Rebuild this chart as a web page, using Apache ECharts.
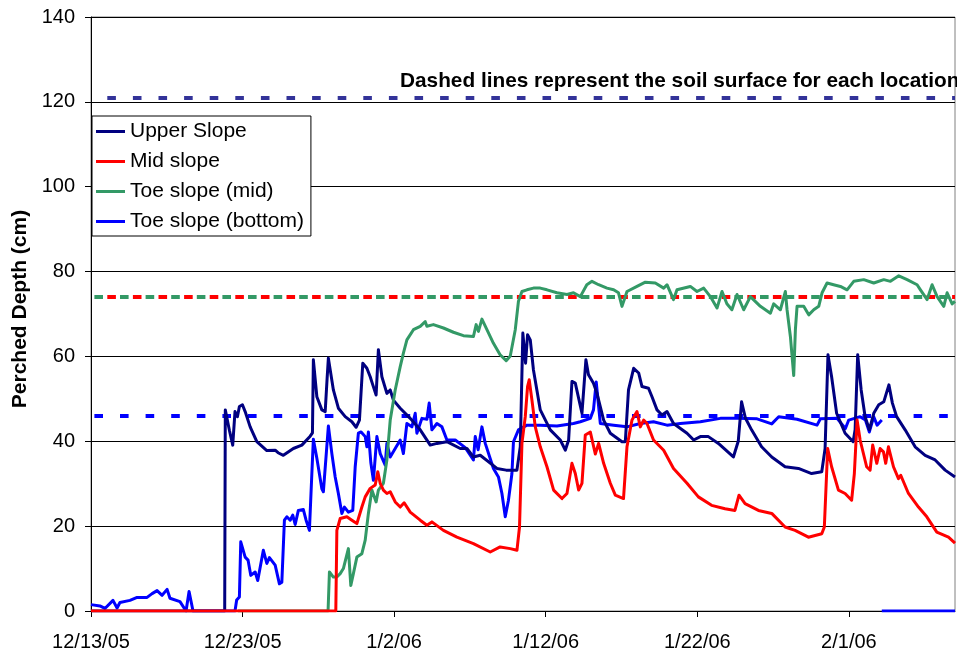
<!DOCTYPE html>
<html>
<head>
<meta charset="utf-8">
<title>Perched water depth</title>
<script src="https://cdn.jsdelivr.net/npm/echarts@6/dist/echarts.min.js"></script>
<style>
  html, body { margin: 0; padding: 0; background: #fff; }
  #chart { width: 957px; height: 653px; }
</style>
</head>
<body>
<div id="chart"></div>
<script>
// Perched water depth (cm) at four slope positions, Dec 2005 - Feb 2006.
// x values are days since 12/13/05.
const START_DATE = Date.UTC(2005, 11, 13);
const X_MAX_DAYS = 57;
const X_TICK_DAYS = [0, 10, 20, 30, 40, 50];
const Y_TICKS = [0, 20, 40, 60, 80, 100, 120, 140];

const seriesNames = ['Upper Slope', 'Mid slope', 'Toe slope (mid)', 'Toe slope (bottom)'];

// Soil surface level for each location (cm)
const soilSurface = [121, 74, 74, 46];

const upperSlope = [
  [0, 0], [8.82, 0], [8.86, 47.4], [9.13, 42.6], [9.35, 39.1], [9.50, 47.0], [9.66, 45.8],
  [9.79, 48.2], [9.99, 48.6], [10.17, 47.0], [10.50, 43.4], [10.94, 39.9], [11.60, 37.8],
  [12.15, 37.9], [12.34, 37.3], [12.69, 36.7], [13.35, 38.3], [13.91, 39.1], [14.46, 41.2],
  [14.61, 42.0], [14.67, 59.2], [14.90, 50.5], [15.23, 47.4], [15.45, 47.0], [15.58, 55.0],
  [15.66, 59.6], [15.99, 52.1], [16.32, 47.8], [16.77, 45.8], [17.21, 44.6], [17.49, 43.3],
  [17.71, 45.0], [17.93, 58.4], [18.20, 57.2], [18.42, 55.2], [18.59, 53.3], [18.81, 50.9],
  [18.96, 61.6], [19.19, 55.2], [19.52, 51.3], [19.74, 52.1], [19.95, 49.7], [20.40, 47.8],
  [21.06, 45.4], [21.72, 42.7], [22.38, 39.1], [22.82, 39.5], [23.48, 39.9], [24.36, 38.3],
  [24.80, 38.3], [25.23, 36.3], [25.68, 36.7], [26.78, 33.6], [27.39, 33.2], [28.10, 33.2],
  [28.32, 38.7], [28.49, 65.5], [28.67, 58.4], [28.80, 65.1], [28.98, 63.9], [29.19, 56.8],
  [29.64, 47.4], [30.30, 42.7], [30.96, 40.3], [31.29, 37.9], [31.51, 40.3], [31.73, 54.1],
  [31.95, 53.7], [32.39, 46.6], [32.65, 59.2], [32.82, 55.7], [33.15, 53.7], [33.38, 51.3],
  [33.82, 45.0], [34.26, 41.9], [35.03, 39.9], [35.25, 39.9], [35.46, 52.1], [35.80, 57.2],
  [36.13, 56.1], [36.35, 52.9], [36.78, 52.5], [37.01, 50.5], [37.34, 47.4], [37.67, 46.2],
  [38.00, 47.0], [38.43, 44.2], [39.32, 41.9], [39.76, 40.3], [40.20, 41.1], [40.73, 41.1],
  [41.39, 39.5], [42.38, 36.3], [42.70, 40.0], [42.92, 49.3], [43.17, 45.5], [43.58, 42.7],
  [44.24, 38.7], [44.91, 36.3], [45.79, 34.0], [46.67, 33.6], [47.54, 32.4], [48.21, 32.8],
  [48.43, 38.3], [48.62, 60.4], [48.86, 55.2], [49.19, 46.6], [49.75, 41.9], [50.28, 39.9],
  [50.41, 42.7], [50.58, 60.4], [50.81, 52.1], [51.07, 45.8], [51.35, 42.7], [51.64, 46.6],
  [51.97, 48.6], [52.30, 49.3], [52.64, 53.3], [52.87, 49.0], [53.15, 45.8], [53.71, 42.7],
  [54.37, 38.7], [55.03, 36.7], [55.69, 35.6], [56.35, 33.2], [57.0, 31.6]
];

const midSlope = [
  [0, 0], [16.15, 0], [16.22, 19.0], [16.44, 21.8], [16.88, 22.2], [17.21, 21.4], [17.54, 20.6],
  [17.87, 24.5], [18.09, 26.9], [18.42, 28.9], [18.75, 29.7], [18.92, 32.8], [19.08, 30.1],
  [19.29, 28.5], [19.52, 27.7], [19.74, 28.1], [20.07, 25.7], [20.40, 24.5], [20.66, 25.5],
  [21.06, 23.3], [21.72, 21.4], [22.16, 20.2], [22.49, 21.0], [23.25, 19.0], [24.14, 17.4],
  [25.23, 15.9], [26.34, 13.9], [26.99, 15.1], [27.66, 14.7], [28.10, 14.3], [28.27, 19.8],
  [28.43, 39.5], [28.65, 45.8], [28.80, 52.9], [28.91, 54.5], [29.09, 49.7], [29.31, 43.4],
  [29.64, 38.7], [30.08, 34.0], [30.52, 28.5], [31.07, 26.5], [31.40, 27.7], [31.73, 34.8],
  [31.95, 32.4], [32.17, 28.5], [32.39, 30.1], [32.61, 41.5], [32.94, 42.2], [33.27, 37.0],
  [33.49, 39.5], [33.82, 34.8], [34.26, 30.1], [34.59, 27.3], [35.13, 26.5], [35.36, 38.7],
  [35.69, 45.0], [36.02, 47.0], [36.24, 43.4], [36.46, 45.0], [36.68, 44.2], [37.11, 40.3],
  [37.78, 37.9], [38.43, 33.6], [39.32, 30.1], [40.07, 26.9], [40.94, 24.9], [41.83, 24.1],
  [42.48, 23.7], [42.75, 27.3], [43.15, 25.3], [44.03, 23.7], [44.91, 23.0], [45.79, 19.8],
  [46.45, 19.0], [47.33, 17.4], [48.21, 18.2], [48.38, 19.8], [48.60, 38.3], [48.86, 34.0],
  [49.31, 28.5], [49.75, 27.7], [50.18, 26.1], [50.36, 32.4], [50.54, 45.0], [50.74, 40.3],
  [51.17, 34.0], [51.40, 33.2], [51.57, 39.1], [51.84, 34.8], [52.06, 38.3], [52.28, 37.5],
  [52.43, 34.8], [52.61, 38.7], [52.94, 34.0], [53.27, 31.2], [53.42, 32.0], [53.93, 27.7],
  [54.59, 24.5], [55.14, 22.2], [55.80, 18.6], [56.57, 17.4], [57.0, 16.0]
];

const toeSlopeMid = [
  [9.70, 0], [15.64, 0], [15.73, 9.2], [15.99, 8.0], [16.22, 8.0], [16.44, 8.8], [16.65, 10.0],
  [16.98, 14.7], [17.10, 15.1], [17.14, 6.0], [17.31, 8.8], [17.54, 12.7], [17.87, 13.5],
  [18.09, 16.7], [18.30, 23.0], [18.53, 28.5], [18.81, 25.7], [18.96, 28.5], [19.29, 30.1],
  [19.52, 35.6], [19.74, 45.0], [20.07, 52.1], [20.40, 57.6], [20.61, 60.8], [20.84, 63.9],
  [21.27, 66.3], [21.72, 67.1], [22.05, 68.2], [22.16, 67.1], [22.59, 67.5], [23.25, 66.7],
  [23.91, 65.7], [24.57, 64.9], [25.23, 64.7], [25.41, 67.5], [25.56, 65.9], [25.79, 68.8],
  [26.12, 66.3], [26.55, 63.1], [26.99, 60.4], [27.39, 59.0], [27.66, 60.1], [27.99, 66.3],
  [28.20, 73.0], [28.43, 75.3], [28.76, 75.7], [29.19, 76.1], [29.64, 76.1], [30.08, 75.7],
  [30.74, 75.0], [31.40, 74.6], [31.83, 75.0], [32.28, 74.1], [32.71, 76.9], [33.05, 77.7],
  [33.49, 76.9], [34.04, 76.1], [34.48, 75.7], [34.80, 75.0], [35.03, 71.8], [35.36, 75.3],
  [36.02, 76.5], [36.57, 77.5], [37.23, 77.3], [37.78, 76.1], [38.00, 76.9], [38.43, 73.4],
  [38.66, 75.7], [39.54, 76.5], [39.98, 75.3], [40.42, 76.1], [40.86, 74.1], [41.30, 71.4],
  [41.63, 75.3], [41.95, 72.4], [42.28, 71.0], [42.62, 74.6], [43.06, 71.0], [43.50, 74.1],
  [44.16, 71.8], [44.82, 70.2], [45.04, 72.4], [45.48, 71.0], [45.81, 75.3], [45.92, 71.0],
  [46.14, 64.7], [46.36, 55.5], [46.47, 66.3], [46.58, 71.8], [47.02, 71.8], [47.35, 69.8],
  [47.68, 71.0], [48.01, 71.8], [48.23, 75.0], [48.56, 77.3], [48.99, 76.9], [49.44, 76.5],
  [49.88, 75.7], [50.32, 77.7], [50.98, 78.1], [51.64, 77.3], [52.30, 78.1], [52.74, 77.7],
  [53.29, 79.0], [53.84, 78.1], [54.50, 76.9], [54.72, 75.7], [55.16, 73.4], [55.49, 76.9],
  [55.82, 74.1], [56.26, 71.8], [56.48, 75.0], [56.81, 72.4], [57.0, 73.0]
];

const toeSlopeBottom = [
  [0, 1.5], [0.59, 1.2], [0.92, 0.6], [1.45, 2.5], [1.72, 0.7], [1.91, 2.0], [2.57, 2.5],
  [3.04, 3.2], [3.70, 3.2], [4.03, 4.1], [4.36, 4.8], [4.69, 3.7], [5.02, 5.1], [5.21, 3.0],
  [5.87, 2.2], [6.27, 0], [6.47, 4.6], [6.73, 0], [9.50, 0], [9.61, 2.6], [9.79, 3.3],
  [9.88, 16.3], [10.17, 12.7], [10.36, 12.0], [10.54, 8.4], [10.83, 9.2], [11.00, 7.2],
  [11.37, 14.3], [11.60, 11.2], [11.77, 12.6], [12.15, 10.8], [12.43, 6.4], [12.59, 6.8],
  [12.76, 21.4], [12.92, 22.2], [13.14, 21.4], [13.31, 22.6], [13.47, 20.4], [13.68, 23.7],
  [14.01, 23.9], [14.19, 21.4], [14.41, 19.0], [14.57, 32.4], [14.67, 40.5], [14.90, 36.0],
  [15.23, 28.8], [15.33, 28.1], [15.66, 43.6], [15.89, 37.1], [16.11, 31.6], [16.32, 27.7],
  [16.55, 23.0], [16.72, 24.5], [16.98, 23.3], [17.27, 23.7], [17.43, 34.0], [17.64, 41.9],
  [17.82, 42.2], [18.09, 41.1], [18.20, 38.7], [18.30, 42.2], [18.46, 35.0], [18.63, 30.8],
  [18.86, 41.1], [19.08, 37.1], [19.41, 34.4], [19.52, 39.5], [19.74, 36.3], [20.07, 38.3],
  [20.40, 40.3], [20.61, 37.1], [20.84, 44.2], [21.17, 43.4], [21.39, 46.6], [21.50, 41.9],
  [21.83, 45.4], [22.16, 45.2], [22.31, 49.0], [22.49, 42.7], [22.82, 44.2], [23.15, 43.4],
  [23.48, 40.3], [24.03, 40.3], [24.69, 38.5], [25.23, 35.6], [25.35, 41.1], [25.54, 38.0],
  [25.79, 43.4], [26.01, 39.5], [26.55, 33.6], [26.88, 31.6], [27.11, 27.7], [27.33, 22.2],
  [27.54, 26.1], [27.77, 32.4], [27.87, 39.9], [28.20, 42.7], [28.76, 43.8], [29.64, 43.8],
  [30.74, 43.6], [31.83, 44.2], [32.28, 44.6], [32.94, 45.4], [33.15, 47.4], [33.33, 54.0],
  [33.49, 48.2], [33.60, 44.2], [34.48, 43.8], [35.36, 43.4], [36.24, 44.2], [37.11, 44.6],
  [38.00, 43.8], [38.88, 44.2], [40.20, 44.6], [41.52, 45.4], [42.62, 45.4], [43.94, 45.3],
  [44.91, 44.1], [45.37, 45.8], [46.58, 45.2], [47.90, 43.8], [48.12, 45.3], [49.22, 45.4],
  [49.77, 43.0], [49.99, 45.0], [50.74, 45.8], [51.09, 45.0], [51.35, 42.2], [51.64, 45.8],
  [51.86, 43.8], [52.17, 45.0], [52.17, '-'], [52.17, 0], [57.0, 0]
];

const seriesData = [upperSlope, midSlope, toeSlopeMid, toeSlopeBottom];
const lineColors = ['#000080', '#FF0000', '#339966', '#0000FF'];
const surfaceColors = ['#333399', '#FF0000', '#339966', '#0000FF'];
const surfaceDashOffset = [9.3, 9.3, 22.2, 22.2];
const drawOrder = [3, 5, 4, 2];

function dayLabel(d) {
  const t = new Date(START_DATE + d * 86400000);
  return (t.getUTCMonth() + 1) + '/' + t.getUTCDate() + '/' + String(t.getUTCFullYear()).slice(2);
}

const FONT = "'Liberation Sans', Arial, sans-serif";

const chart = echarts.init(document.getElementById('chart'), null, { renderer: 'canvas' });

const series = seriesNames.map((name, i) => ({
  name: name,
  type: 'line',
  data: seriesData[i],
  showSymbol: false,
  symbol: 'none',
  connectNulls: false,
  z: drawOrder[i],
  lineStyle: { color: lineColors[i], width: 3, join: 'round' },
  itemStyle: { color: lineColors[i] },
  markLine: {
    silent: true,
    symbol: 'none',
    label: { show: false },
    z: 1,
    lineStyle: {
      color: surfaceColors[i],
      width: 4,
      type: [8.6, 17],
      dashOffset: surfaceDashOffset[i]
    },
    data: [{ yAxis: soilSurface[i] }]
  }
}));

chart.setOption({
  animation: false,
  backgroundColor: '#ffffff',
  textStyle: { fontFamily: FONT },
  grid: {
    left: 91, right: 2, top: 17, bottom: 42,
    show: true, borderColor: '#808080', borderWidth: 1
  },
  xAxis: {
    type: 'value',
    min: 0,
    max: X_MAX_DAYS,
    interval: 10,
    axisLine: { show: true, onZero: false, lineStyle: { color: '#000', width: 1 } },
    axisTick: { show: true, length: 6, inside: false, customValues: X_TICK_DAYS, lineStyle: { color: '#000' } },
    axisLabel: {
      customValues: X_TICK_DAYS,
      formatter: v => dayLabel(v),
      fontSize: 20, color: '#000', fontFamily: FONT, margin: 21
    },
    splitLine: { show: false }
  },
  yAxis: {
    type: 'value',
    min: 0,
    max: 140,
    interval: 20,
    axisLine: { show: true, lineStyle: { color: '#000', width: 1 } },
    axisTick: { show: true, length: 6, inside: false, lineStyle: { color: '#000' } },
    axisLabel: {
      fontSize: 20, color: '#000', fontFamily: FONT, margin: 16,
      formatter: v => (Y_TICKS.indexOf(v) >= 0 ? String(v) : '')
    },
    splitLine: { show: true, lineStyle: { color: '#000', width: 1 } }
  },
  legend: {
    data: seriesNames,
    orient: 'vertical',
    left: 92,
    top: 116,
    backgroundColor: '#ffffff',
    borderColor: '#000',
    borderWidth: 1,
    borderRadius: 0,
    padding: [5, 7, 4, 4],
    itemGap: 9,
    itemWidth: 29,
    itemHeight: 3,
    icon: 'rect',
    textStyle: { fontSize: 21, color: '#000', fontFamily: FONT, lineHeight: 20 },
    selectedMode: false
  },
  graphic: [
    {
      type: 'text',
      left: 400,
      top: 71,
      silent: true,
      style: {
        text: 'Dashed lines represent the soil surface for each location',
        font: "bold 20.8px " + FONT,
        fill: '#000'
      }
    },
    {
      type: 'text',
      x: 20,
      y: 309,
      rotation: Math.PI / 2,
      silent: true,
      style: {
        text: 'Perched Depth (cm)',
        font: "bold 21px " + FONT,
        fill: '#000',
        align: 'center',
        verticalAlign: 'middle'
      }
    }
  ],
  series: series
});
</script>
</body>
</html>
